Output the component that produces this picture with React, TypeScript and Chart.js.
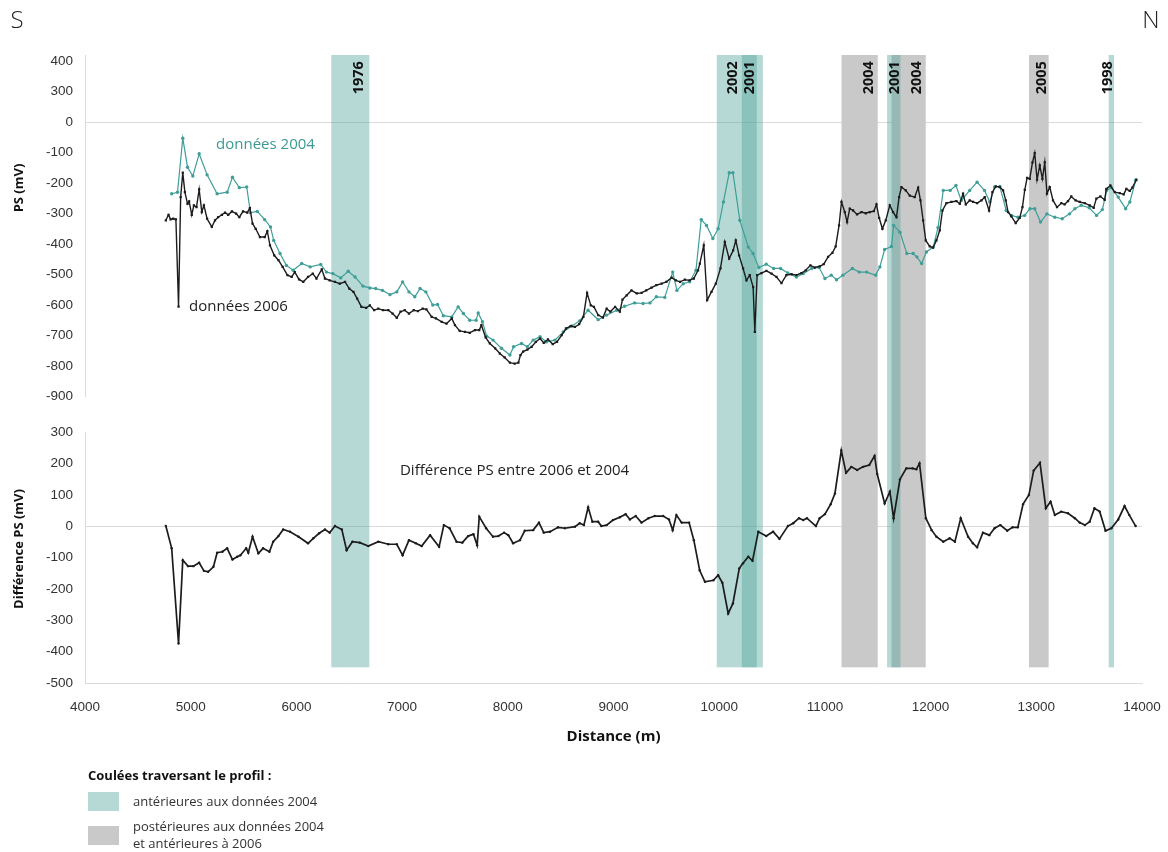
import React, { useEffect, useRef } from 'react';
import { Chart, registerables } from 'chart.js';

Chart.register(...registerables);

// ---------- data ----------
const X_MIN = 4000;
const X_MAX = 14000;

const PS2004_X = [4820, 4875, 4925, 4970, 5020, 5080, 5155, 5250, 5345, 5395, 5460, 5530, 5565, 5630, 5700, 5755, 5785, 5845, 5905, 5970, 6050, 6130, 6230, 6285, 6345, 6420, 6490, 6555, 6630, 6695, 6750, 6815, 6885, 6950, 7005, 7065, 7120, 7170, 7225, 7290, 7335, 7390, 7470, 7530, 7580, 7640, 7700, 7720, 7760, 7800, 7860, 7940, 8020, 8055, 8130, 8185, 8240, 8305, 8365, 8445, 8525, 8605, 8680, 8760, 8855, 8935, 9030, 9105, 9200, 9280, 9345, 9405, 9485, 9560, 9600, 9660, 9720, 9780, 9830, 9880, 9940, 9990, 10040, 10095, 10130, 10195, 10275, 10320, 10375, 10445, 10515, 10580, 10650, 10730, 10795, 10875, 10945, 11000, 11060, 11110, 11170, 11260, 11325, 11395, 11480, 11520, 11565, 11630, 11650, 11710, 11775, 11835, 11870, 11915, 11960, 12025, 12070, 12120, 12185, 12240, 12290, 12370, 12440, 12510, 12560, 12605, 12655, 12715, 12765, 12825, 12890, 12940, 12985, 13040, 13100, 13175, 13245, 13315, 13365, 13425, 13500, 13570, 13625, 13665, 13710, 13775, 13845, 13885, 13940];
const PS2004_Y = [-235, -230, -53, -148, -177, -104, -173, -235, -230, -181, -215, -213, -297, -293, -320, -344, -388, -431, -470, -486, -464, -475, -467, -492, -497, -511, -489, -508, -538, -544, -546, -552, -566, -557, -524, -557, -573, -546, -557, -600, -598, -635, -639, -606, -628, -650, -650, -626, -655, -702, -715, -742, -764, -737, -726, -737, -715, -704, -721, -715, -688, -669, -652, -617, -648, -633, -617, -604, -593, -595, -593, -573, -575, -492, -552, -530, -524, -486, -320, -339, -382, -350, -262, -166, -166, -322, -410, -431, -477, -466, -480, -480, -495, -508, -497, -480, -477, -513, -502, -517, -502, -480, -492, -492, -502, -475, -418, -408, -339, -361, -431, -431, -442, -464, -426, -410, -346, -224, -224, -208, -257, -224, -197, -224, -262, -213, -211, -290, -306, -312, -306, -284, -284, -328, -301, -312, -317, -301, -284, -273, -281, -306, -287, -224, -215, -246, -284, -262, -191];

const PS2006_X = [4765, 4790, 4810, 4835, 4860, 4885, 4905, 4925, 4945, 4970, 4985, 5010, 5030, 5055, 5080, 5105, 5125, 5155, 5200, 5230, 5260, 5295, 5325, 5355, 5390, 5430, 5460, 5495, 5535, 5560, 5585, 5615, 5655, 5700, 5725, 5750, 5790, 5830, 5870, 5915, 5955, 5985, 6025, 6065, 6110, 6155, 6190, 6240, 6270, 6315, 6365, 6410, 6460, 6500, 6540, 6575, 6615, 6660, 6695, 6735, 6775, 6820, 6870, 6910, 6950, 6985, 7025, 7065, 7110, 7150, 7195, 7230, 7280, 7320, 7375, 7420, 7470, 7500, 7545, 7595, 7640, 7690, 7730, 7750, 7790, 7830, 7880, 7925, 7970, 8020, 8065, 8100, 8120, 8145, 8185, 8225, 8265, 8305, 8340, 8380, 8425, 8465, 8510, 8550, 8595, 8635, 8675, 8715, 8750, 8785, 8815, 8855, 8900, 8935, 8970, 9015, 9060, 9085, 9125, 9170, 9220, 9265, 9310, 9360, 9405, 9455, 9500, 9550, 9590, 9630, 9675, 9720, 9760, 9800, 9817, 9854, 9886, 9927, 9968, 10012, 10053, 10094, 10132, 10157, 10188, 10226, 10258, 10289, 10321, 10337, 10359, 10400, 10447, 10495, 10542, 10589, 10636, 10684, 10731, 10778, 10819, 10863, 10904, 10952, 10989, 11030, 11071, 11102, 11134, 11157, 11188, 11210, 11235, 11267, 11304, 11346, 11387, 11425, 11463, 11488, 11513, 11544, 11576, 11614, 11645, 11677, 11702, 11724, 11765, 11803, 11850, 11882, 11904, 11929, 11954, 11992, 12023, 12055, 12087, 12112, 12150, 12197, 12244, 12276, 12307, 12333, 12370, 12402, 12440, 12481, 12512, 12553, 12585, 12617, 12654, 12686, 12711, 12733, 12764, 12805, 12843, 12869, 12891, 12913, 12938, 12964, 12985, 13007, 13033, 13058, 13080, 13101, 13127, 13158, 13196, 13237, 13268, 13300, 13331, 13372, 13411, 13458, 13505, 13543, 13568, 13606, 13647, 13663, 13701, 13742, 13789, 13827, 13852, 13884, 13909, 13947];
const PS2006_Y = [-322, -304, -319, -317, -319, -605, -246, -166, -230, -268, -260, -304, -273, -279, -221, -295, -273, -317, -344, -322, -312, -304, -297, -304, -293, -300, -312, -293, -297, -282, -333, -350, -377, -377, -358, -404, -437, -453, -475, -502, -508, -492, -516, -524, -508, -497, -513, -483, -513, -519, -524, -530, -524, -546, -557, -579, -606, -609, -601, -617, -612, -617, -617, -628, -642, -622, -617, -628, -617, -620, -612, -614, -639, -644, -655, -661, -644, -666, -685, -688, -691, -682, -682, -666, -706, -726, -742, -759, -772, -789, -792, -789, -764, -753, -746, -737, -721, -710, -724, -713, -728, -721, -699, -677, -669, -672, -663, -639, -560, -601, -606, -633, -641, -612, -622, -606, -622, -582, -568, -552, -562, -560, -552, -543, -535, -530, -524, -510, -519, -524, -517, -519, -513, -486, -464, -404, -584, -557, -530, -480, -393, -448, -421, -388, -437, -480, -519, -502, -541, -688, -502, -495, -488, -497, -508, -528, -502, -499, -502, -495, -486, -470, -477, -473, -466, -442, -429, -408, -339, -262, -295, -328, -284, -290, -303, -295, -299, -295, -292, -270, -314, -350, -322, -273, -295, -312, -246, -213, -224, -241, -246, -215, -257, -322, -388, -408, -412, -388, -355, -290, -266, -262, -259, -268, -235, -270, -257, -262, -266, -257, -246, -290, -230, -211, -213, -224, -257, -295, -309, -331, -314, -279, -222, -183, -186, -132, -102, -189, -142, -186, -132, -235, -213, -257, -279, -266, -270, -259, -244, -257, -262, -266, -273, -281, -251, -244, -255, -219, -208, -230, -233, -237, -219, -226, -215, -189];

const DIFF_X = [4765, 4820, 4885, 4925, 4975, 5025, 5080, 5125, 5165, 5215, 5250, 5300, 5345, 5395, 5440, 5470, 5525, 5545, 5585, 5640, 5685, 5745, 5780, 5830, 5875, 5940, 6020, 6110, 6160, 6215, 6270, 6315, 6365, 6430, 6475, 6530, 6600, 6680, 6775, 6870, 6950, 7005, 7065, 7130, 7185, 7265, 7350, 7395, 7450, 7515, 7570, 7625, 7675, 7710, 7730, 7795, 7860, 7910, 7965, 8005, 8050, 8115, 8160, 8240, 8295, 8340, 8400, 8475, 8540, 8635, 8680, 8720, 8760, 8800, 8855, 8885, 8935, 8995, 9060, 9115, 9155, 9210, 9265, 9330, 9390, 9470, 9525, 9560, 9595, 9645, 9715, 9760, 9815, 9865, 9945, 9990, 10030, 10085, 10130, 10190, 10225, 10275, 10315, 10370, 10445, 10510, 10570, 10650, 10700, 10755, 10795, 10830, 10915, 10950, 11000, 11055, 11095, 11155, 11200, 11250, 11305, 11360, 11420, 11470, 11495, 11565, 11615, 11650, 11710, 11770, 11830, 11865, 11895, 11955, 12010, 12055, 12120, 12180, 12230, 12285, 12355, 12400, 12440, 12495, 12555, 12605, 12660, 12725, 12775, 12825, 12875, 12930, 12975, 13035, 13090, 13135, 13175, 13235, 13300, 13365, 13410, 13460, 13505, 13550, 13600, 13655, 13710, 13775, 13835, 13880, 13940];
const DIFF_Y = [1, -70, -374, -108, -127, -127, -116, -142, -145, -129, -84, -81, -70, -106, -97, -92, -70, -84, -33, -86, -70, -81, -49, -31, -10, -17, -33, -54, -38, -22, -10, -20, 1, -10, -76, -49, -52, -63, -49, -57, -57, -92, -44, -54, -63, -28, -65, 4, -6, -49, -52, -31, -25, -60, 31, -6, -33, -31, -20, -28, -54, -44, -14, -12, 12, -20, -17, -3, -6, -1, 10, 4, 61, 15, 15, 1, 4, 20, 29, 39, 22, 33, 12, 26, 33, 33, 22, -12, 36, 12, 12, -44, -140, -177, -172, -156, -180, -278, -246, -134, -118, -97, -110, -17, -31, -17, -40, 1, 10, 26, 20, 26, 1, 26, 39, 71, 105, 242, 171, 190, 180, 190, 196, 225, 167, 73, 111, 26, 150, 185, 185, 182, 201, 26, -12, -33, -49, -38, -49, 26, -33, -54, -67, -20, -28, -6, 4, -14, -3, -3, 71, 100, 178, 203, 58, 79, 36, 47, 42, 26, 12, 4, 15, 58, 47, -14, -6, 22, 65, 36, 1];

// Upper panel tick labels as printed on the original figure
const TOP_TICK_VALUES = [200, 100, 0, -100, -200, -300, -400, -500, -600, -700, -800, -900];
const TOP_TICK_LABELS = ['400', '300', '0', '-100', '-200', '-300', '-400', '-500', '-600', '-700', '-800', '-900'];
const BOT_TICK_VALUES = [300, 200, 100, 0, -100, -200, -300, -400, -500];

// Lava flows crossing the profile (metres along profile)
const BAND_YEAR = ['1976', '2002', '2001', '2004', '2001', '2004', '2005', '1998'];
const BAND_START = [6330, 9977, 10214, 11157, 11588, 11630, 12931, 13685];
const BAND_END = [6690, 10356, 10413, 11500, 11715, 11954, 13117, 13735];
const BAND_KIND = ['pre', 'pre', 'pre', 'post', 'pre', 'post', 'post', 'pre'];
const BAND_LABEL_AT = [6590, 10130, 10290, 11415, 11660, 11870, 13050, 13675];
const BAND_TOP_VALUE = 220; // on upper axis
const BAND_BOTTOM_VALUE = -450; // on lower axis
const BAND_LABEL_VALUE = 200; // upper axis

const LEGEND_TITLE = 'Coulées traversant le profil :';
const LEGEND_ITEMS = [
  { kind: 'pre', lines: ['antérieures aux données 2004'] },
  { kind: 'post', lines: ['postérieures aux données 2004', 'et antérieures à 2006'] },
];

// ---------- styles ----------
const TEAL_LINE = '#3f9e97';
const DARK = '#1c1c1c';
const BAND_PRE = 'rgba(80,165,155,0.42)';
const BAND_POST = '#c9c9c9';
const AXIS_LINE = '#dadada';
const TICK_FONT = { family: '"Liberation Sans", Arial, sans-serif', size: 13.5 };
const TEXT_FONT = '"Open Sans", "Noto Sans", sans-serif';

const zeroGrid = (ctx: any) => (ctx.tick && ctx.tick.value === 0 ? AXIS_LINE : 'rgba(0,0,0,0)');

const overlayPlugin = {
  id: 'overlay',
  beforeDatasetsDraw(chart: any) {
    const { ctx, scales } = chart;
    const x = scales.x, yTop = scales.yTop, yBot = scales.yBot;
    const top = yTop.getPixelForValue(BAND_TOP_VALUE);
    const bottom = yBot.getPixelForValue(BAND_BOTTOM_VALUE);
    ctx.save();
    for (const pass of ['post', 'pre']) {
      BAND_YEAR.forEach((_, i) => {
        if (BAND_KIND[i] !== pass) return;
        const x0 = x.getPixelForValue(BAND_START[i]);
        const x1 = x.getPixelForValue(BAND_END[i]);
        ctx.fillStyle = pass === 'pre' ? BAND_PRE : BAND_POST;
        ctx.fillRect(x0, top, x1 - x0, bottom - top);
      });
    }
    ctx.restore();
  },
  afterDraw(chart: any) {
    const { ctx, scales } = chart;
    const x = scales.x, yTop = scales.yTop, yBot = scales.yBot;
    ctx.save();
    // band labels
    ctx.fillStyle = '#111';
    ctx.font = `bold 14.5px ${TEXT_FONT}`;
    ctx.textBaseline = 'middle';
    ctx.textAlign = 'right';
    BAND_YEAR.forEach((year, i) => {
      const px = x.getPixelForValue(BAND_LABEL_AT[i]);
      const py = yTop.getPixelForValue(BAND_LABEL_VALUE);
      ctx.save();
      ctx.translate(px, py);
      ctx.rotate(-Math.PI / 2);
      ctx.fillText(year, 0, 0);
      ctx.restore();
    });

    // series annotations
    ctx.textAlign = 'left';
    ctx.font = `15px ${TEXT_FONT}`;
    ctx.fillStyle = '#3a9a93';
    ctx.fillText('données 2004', x.getPixelForValue(5240), yTop.getPixelForValue(-74));
    ctx.fillStyle = '#222';
    ctx.fillText('données 2006', x.getPixelForValue(4985), yTop.getPixelForValue(-604));
    ctx.font = `15px ${TEXT_FONT}`;
    ctx.fillText('Différence PS entre 2006 et 2004', x.getPixelForValue(6980), yBot.getPixelForValue(177));

    // axis titles
    ctx.font = `bold 13px ${TEXT_FONT}`;
    ctx.fillStyle = '#111';
    ctx.textAlign = 'center';
    const vTitle = (t: string, cx: number, cy: number) => {
      ctx.save();
      ctx.translate(cx, cy);
      ctx.rotate(-Math.PI / 2);
      ctx.fillText(t, 0, 0);
      ctx.restore();
    };
    vTitle('PS (mV)', 19, 188);
    vTitle('Différence PS (mV)', 19, 549);

    // S / N
    ctx.font = `300 24px ${TEXT_FONT}`;
    ctx.fillStyle = '#222';
    ctx.fillText('S', 17, 21);
    ctx.fillText('N', 1151, 21);

    // legend
    ctx.textAlign = 'left';
    ctx.font = `bold 13px ${TEXT_FONT}`;
    ctx.fillStyle = '#111';
    ctx.fillText(LEGEND_TITLE, 88, 776);
    ctx.font = `13px ${TEXT_FONT}`;
    let sy = 792;
    LEGEND_ITEMS.forEach((item) => {
      ctx.fillStyle = item.kind === 'pre' ? BAND_PRE : BAND_POST;
      ctx.fillRect(88, sy, 31, 19);
      ctx.fillStyle = '#333';
      item.lines.forEach((ln, j) => {
        ctx.fillText(ln, 133, sy + (item.lines.length > 1 ? 1 : 10) + j * 17);
      });
      sy += 34;
    });
    ctx.restore();
  },
};

export default function App() {
  const ref = useRef<HTMLCanvasElement | null>(null);

  useEffect(() => {
    if (!ref.current) return;
    const chart = new Chart(ref.current, {
      type: 'line',
      data: {
        datasets: [
          {
            label: 'données 2006',
            data: PS2006_X.map((v, i) => ({ x: v, y: PS2006_Y[i] })),
            yAxisID: 'yTop',
            borderColor: DARK,
            backgroundColor: DARK,
            borderWidth: 1.4,
            pointRadius: 1.6,
            pointBorderWidth: 0,
            pointStyle: 'rect',
            tension: 0,
            order: 1,
          },
          {
            label: 'données 2004',
            data: PS2004_X.map((v, i) => ({ x: v, y: PS2004_Y[i] })),
            yAxisID: 'yTop',
            borderColor: TEAL_LINE,
            backgroundColor: TEAL_LINE,
            borderWidth: 1.2,
            pointRadius: 1.7,
            pointBorderWidth: 0,
            tension: 0,
            order: 2,
          },
          {
            label: 'Différence PS entre 2006 et 2004',
            data: DIFF_X.map((v, i) => ({ x: v, y: DIFF_Y[i] })),
            yAxisID: 'yBot',
            borderColor: DARK,
            backgroundColor: DARK,
            borderWidth: 1.7,
            pointRadius: 1.2,
            pointBorderWidth: 0,
            tension: 0,
            order: 1,
          },
        ],
      },
      options: {
        responsive: false,
        animation: false,
        events: [],
        layout: { padding: { top: 55, left: 0, right: 26, bottom: 99 } },
        plugins: { legend: { display: false }, tooltip: { enabled: false } },
        scales: {
          x: {
            type: 'linear',
            position: 'bottom',
            min: X_MIN,
            max: X_MAX,
            ticks: { stepSize: 1000, autoSkip: false, maxRotation: 0, padding: 16, color: '#333', font: TICK_FONT, callback: (v: any) => String(v) },
            grid: { display: false, drawTicks: false },
            border: { display: true, color: AXIS_LINE },
            title: { display: true, text: 'Distance (m)', color: '#111', font: { family: TEXT_FONT, size: 15, weight: 'bold' }, padding: { top: 0, bottom: 7 } },
            afterFit: (s: any) => { s.height = 70; s.paddingLeft = 0; s.paddingRight = 0; },
          },
          yTop: {
            type: 'linear',
            position: 'left',
            stack: 'panels',
            stackWeight: 341.5,
            weight: 3,
            min: -900,
            max: BAND_TOP_VALUE,
            afterBuildTicks: (s: any) => { s.ticks = TOP_TICK_VALUES.map((v) => ({ value: v })); },
            ticks: {
              autoSkip: false,
              padding: 12,
              color: '#333',
              font: TICK_FONT,
              callback: (v: any) => { const k = TOP_TICK_VALUES.indexOf(Number(v)); return k >= 0 ? TOP_TICK_LABELS[k] : ''; },
            },
            grid: { color: zeroGrid, drawTicks: false },
            border: { display: true, color: AXIS_LINE },
            afterFit: (s: any) => { s.width = 85; },
          },
          yGap: {
            type: 'linear',
            position: 'left',
            stack: 'panels',
            stackWeight: 35.9,
            weight: 2,
            display: false,
            min: 0,
            max: 1,
          },
          yBot: {
            type: 'linear',
            position: 'left',
            stack: 'panels',
            stackWeight: 250.6,
            weight: 1,
            min: -500,
            max: 300,
            afterBuildTicks: (s: any) => { s.ticks = BOT_TICK_VALUES.map((v) => ({ value: v })); },
            ticks: { autoSkip: false, padding: 12, color: '#333', font: TICK_FONT, callback: (v: any) => String(v) },
            grid: { color: zeroGrid, drawTicks: false },
            border: { display: true, color: AXIS_LINE },
            afterFit: (s: any) => { s.width = 85; },
          },
        },
      } as any,
      plugins: [overlayPlugin],
    });
    return () => chart.destroy();
  }, []);

  return (
    <div style={{ position: 'absolute', left: 0, top: 0, width: 1168, height: 852, background: '#fff' }}>
      <canvas ref={ref} width={1168} height={852} style={{ width: 1168, height: 852, display: 'block' }} />
    </div>
  );
}
